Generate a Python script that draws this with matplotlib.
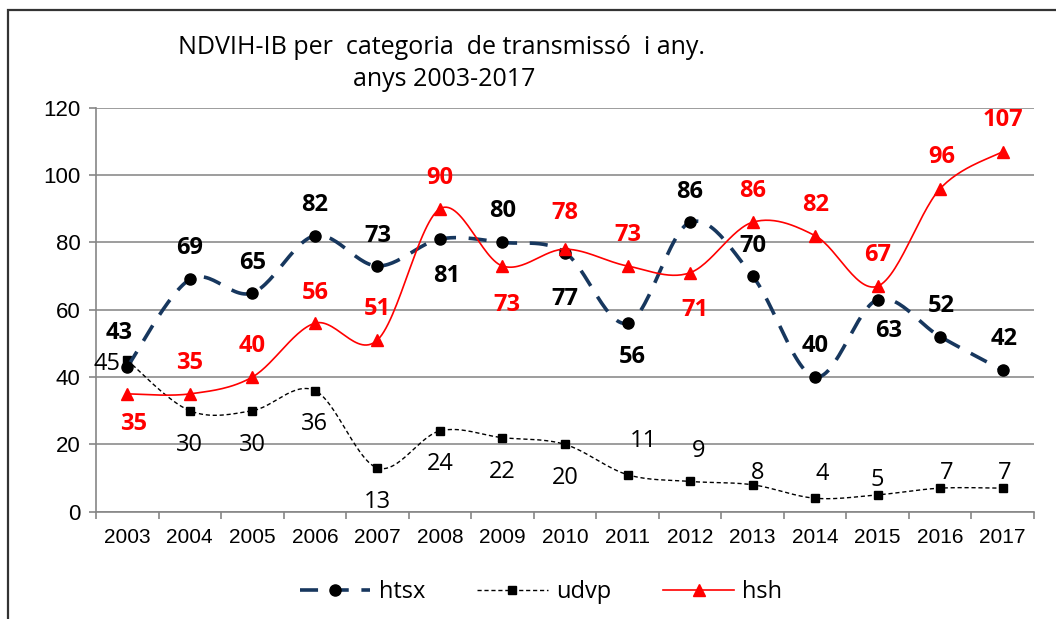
import matplotlib
matplotlib.use("Agg")
import matplotlib.pyplot as plt
import numpy as np
from matplotlib.patches import Rectangle

# Dades
years = ['2003', '2004', '2005', '2006', '2007', '2008', '2009', '2010',
         '2011', '2012', '2013', '2014', '2015', '2016', '2017']
htsx = [43, 69, 65, 82, 73, 81, 80, 77, 56, 86, 70, 40, 63, 52, 42]
udvp = [45, 30, 30, 36, 13, 24, 22, 20, 11, 9, 8, 4, 5, 7, 7]
hsh = [35, 35, 40, 56, 51, 90, 73, 78, 73, 71, 86, 82, 67, 96, 107]

# desplaçament de les etiquetes (pixels, dx, dy cap avall)
off_htsx = [(-8, -34), (0, -31), (0, -30), (0, -31), (0, -30), (7, 37), (0, -31),
            (0, 46), (5, 34), (0, -30), (0, -30), (0, -31), (11, 31), (1, -31), (1, -31)]
off_udvp = [(-20, 4), (0, 34), (0, 34), (0, 33), (0, 34), (0, 33), (0, 34),
            (0, 34), (16, -34), (9, -30), (5, -12), (7, -24), (0, -15), (6, -15), (2, -15)]
off_hsh = [(6, 30), (0, -31), (0, -31), (0, -30), (0, -31), (0, -31), (4, 39),
           (0, -36), (0, -31), (5, 37), (0, -31), (0, -31), (0, -31), (2, -32), (0, -32)]


def smooth(x, y, n=30):
    # corba suau tipus Excel (Catmull-Rom amb Bezier)
    x = np.asarray(x, float)
    y = np.asarray(y, float)
    P = np.column_stack([x, y])
    out = []
    for i in range(len(P) - 1):
        p0 = P[i - 1] if i > 0 else P[i]
        p1 = P[i]
        p2 = P[i + 1]
        p3 = P[i + 2] if i + 2 < len(P) else P[i + 1]
        c1 = p1 + (p2 - p0) / 6.0
        c2 = p2 - (p3 - p1) / 6.0
        t = np.linspace(0, 1, n)[:, None]
        seg = ((1 - t) ** 3) * p1 + 3 * ((1 - t) ** 2) * t * c1 + 3 * (1 - t) * t ** 2 * c2 + t ** 3 * p2
        out.append(seg if i == 0 else seg[1:])
    s = np.vstack(out)
    return s[:, 0], s[:, 1]


fig = plt.figure(figsize=(10.56, 6.19), dpi=100)
ax = fig.add_axes([96 / 1056, 1 - 511.7 / 619, (1034 - 96) / 1056, (511.7 - 107.8) / 619])

xs = np.arange(len(years))
navy = '#17375E'
red = '#FF0000'

sx, sy = smooth(xs, udvp)
ax.plot(sx, sy, color='black', lw=1.0, ls=(0, (3, 2)), zorder=3)
ax.plot(xs, udvp, ls='none', marker='s', ms=6, color='black', zorder=4)

sx, sy = smooth(xs, htsx)
ax.plot(sx, sy, color=navy, lw=2.6, ls=(0, (5, 3.5)), zorder=5)
ax.plot(xs, htsx, ls='none', marker='o', ms=8, color='black', zorder=6)

sx, sy = smooth(xs, hsh)
ax.plot(sx, sy, color=red, lw=1.2, zorder=7)
ax.plot(xs, hsh, ls='none', marker='^', ms=8, color=red, zorder=8)

# legend handles
ax.plot([], [], color=navy, lw=2.6, ls=(0, (5, 3.5)), marker='o', ms=8,
        mfc='black', mec='black', label='htsx')
ax.plot([], [], color='black', lw=1.0, ls=(0, (3, 2)), marker='s', ms=6, label='udvp')
ax.plot([], [], color=red, lw=1.2, marker='^', ms=8, label='hsh')

lab_font = 'Open Sans'
for vals, offs, col, wt in [(htsx, off_htsx, 'black', 'bold'),
                            (udvp, off_udvp, 'black', 'normal'),
                            (hsh, off_hsh, red, 'bold')]:
    for i, v in enumerate(vals):
        dx, dy = offs[i]
        ax.annotate(str(v), (xs[i], v), xytext=(dx, -dy), textcoords='offset pixels',
                    ha='center', va='center', fontsize=17, color=col,
                    fontweight=wt, family=lab_font, zorder=10)

ax.set_xlim(-0.5, len(years) - 0.5)
ax.set_ylim(0, 120)
ax.set_yticks(range(0, 121, 20))
ax.set_xticks(np.arange(len(years) + 1) - 0.5, minor=False)
ax.set_xticklabels([])
ax.set_xticks(xs, minor=True)
ax.set_xticklabels(years, minor=True, fontsize=15, family='Liberation Sans')
ax.tick_params(axis='x', which='minor', length=0, pad=12)
ax.tick_params(axis='x', which='major', length=5, width=1.2, color='#868686', direction='out')
ax.tick_params(axis='y', length=5, width=1.2, color='#868686', pad=6)
for lab in ax.get_yticklabels():
    lab.set_fontsize(16)
    lab.set_family('Liberation Sans')

ax.grid(axis='y', color='#8c8c8c', lw=1.2)
ax.set_axisbelow(True)
for s in ['top', 'right']:
    ax.spines[s].set_visible(False)
for s in ['left', 'bottom']:
    ax.spines[s].set_color('#868686')
    ax.spines[s].set_linewidth(1.2)

leg = fig.legend(loc='center', bbox_to_anchor=(541 / 1056, 1 - 592 / 619), ncol=3,
                 frameon=False, prop={'family': 'Open Sans', 'size': 17},
                 handlelength=3.0, handletextpad=0.35, columnspacing=2.2)

fig.text(442 / 1056, 1 - 47 / 619, 'NDVIH-IB per  categoria  de transmissó  i any.',
         ha='center', va='center', fontsize=18, family='Open Sans')
fig.text(444 / 1056, 1 - 80 / 619, 'anys 2003-2017',
         ha='center', va='center', fontsize=18, family='Open Sans')

# marc exterior
fig.patches.append(Rectangle((8 / 1056, -0.1), 1.2, 1 - 10 / 619 + 0.1,
                             transform=fig.transFigure, fill=False,
                             edgecolor='#333333', lw=1.6))

fig.savefig('out.png', dpi=100)
